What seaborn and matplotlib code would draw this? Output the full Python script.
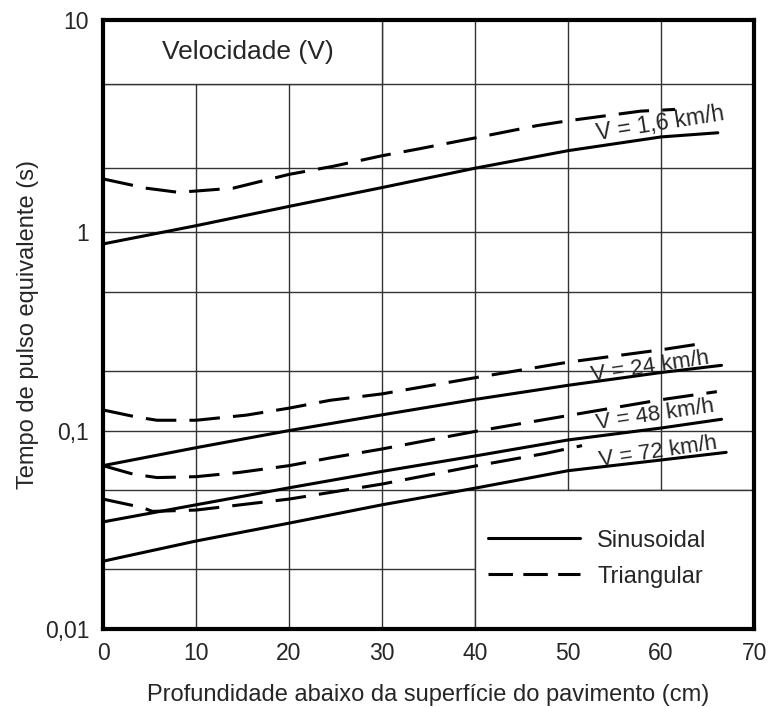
import numpy as np
import pandas as pd
import matplotlib
matplotlib.use("Agg")
import matplotlib.pyplot as plt
from matplotlib.lines import Line2D
from matplotlib.patches import Rectangle
from matplotlib.ticker import FixedLocator, NullFormatter
import seaborn as sns

# ---------------- data ----------------
x_sin_16 = [0, 10, 20, 30, 40, 50, 60, 66.1]
y_sin_16 = [0.87, 1.07, 1.32, 1.62, 2.0, 2.42, 2.81, 2.94]
x_tri_16 = [0, 4.6, 8.0, 10, 14, 20, 24.7, 30, 34, 40, 46.7, 50, 57.8, 61.5]
y_tri_16 = [1.78, 1.61, 1.54, 1.56, 1.61, 1.87, 2.04, 2.29, 2.47, 2.78, 3.18, 3.35, 3.72, 3.79]

x_sin_24 = [0, 10, 20, 30, 40, 50, 60, 66.5]
y_sin_24 = [0.0666, 0.082, 0.100, 0.120, 0.1435, 0.169, 0.196, 0.213]
x_tri_24 = [0, 3.6, 5.8, 10, 15.4, 20, 24.4, 30, 40, 50, 60, 63.9]
y_tri_24 = [0.127, 0.117, 0.1127, 0.1127, 0.1196, 0.1297, 0.142, 0.153, 0.1845, 0.221, 0.255, 0.272]

x_sin_48 = [0, 10, 20, 30, 40, 50, 60, 66.5]
y_sin_48 = [0.0347, 0.0423, 0.0515, 0.0623, 0.0745, 0.0897, 0.103, 0.114]
x_tri_48 = [0, 3.2, 5.8, 10, 14.7, 20, 24.4, 30, 40, 50, 60, 66]
y_tri_48 = [0.0666, 0.0604, 0.058, 0.0586, 0.0616, 0.0666, 0.0728, 0.0808, 0.099, 0.119, 0.143, 0.157]

x_sin_72 = [0, 10, 20, 30, 40, 50, 60, 67.0]
y_sin_72 = [0.0220, 0.0278, 0.0342, 0.0423, 0.0513, 0.0628, 0.0711, 0.0777]
x_tri_72 = [0, 4.2, 5.3, 10, 20, 30, 40, 47.6, 51.5]
y_tri_72 = [0.0452, 0.041, 0.0392, 0.0398, 0.0452, 0.0538, 0.0663, 0.0768, 0.084]

velocidades = ["V = 1,6 km/h", "V = 24 km/h", "V = 48 km/h", "V = 72 km/h"]
formas = ["Sinusoidal", "Triangular"]
y_tick_vals = [0.01, 0.1, 1, 10]
y_tick_labels = ["0,01", "0,1", "1", "10"]
y_minor_vals = [0.02, 0.05, 0.2, 0.5, 2, 5]
x_ticks = [0, 10, 20, 30, 40, 50, 60, 70]

series = [
    (velocidades[0], formas[0], x_sin_16, y_sin_16),
    (velocidades[0], formas[1], x_tri_16, y_tri_16),
    (velocidades[1], formas[0], x_sin_24, y_sin_24),
    (velocidades[1], formas[1], x_tri_24, y_tri_24),
    (velocidades[2], formas[0], x_sin_48, y_sin_48),
    (velocidades[2], formas[1], x_tri_48, y_tri_48),
    (velocidades[3], formas[0], x_sin_72, y_sin_72),
    (velocidades[3], formas[1], x_tri_72, y_tri_72),
]
rows = []
for v, f, xs, ys in series:
    for xv, yv in zip(xs, ys):
        rows.append({"serie": v + "|" + f, "forma": f, "prof": xv, "tempo": yv})
df = pd.DataFrame(rows)

# ---------------- styling ----------------
sns.set_style("white")
plt.rcParams["font.family"] = ["Liberation Sans", "DejaVu Sans"]
GRID = "#333333"
LW = 2.2
DASH = (10, 4.3)

# the original's upper decade (1-10) is drawn slightly taller than the others
K_TOP = 211.0 / 198.0


def fwd(y):
    l = np.log10(np.clip(y, 1e-12, None))
    return np.where(l > 0, l * K_TOP, l)


def inv(t):
    t = np.asarray(t, dtype=float)
    return np.where(t > 0, 10 ** (t / K_TOP), 10 ** t)


fig = plt.figure(figsize=(7.69, 7.07), dpi=100)
ax = fig.add_axes([0.134, 0.110, 0.8466, 0.8614])

ax.set_yscale("function", functions=(fwd, inv))
ax.set_xlim(0, 70)
ax.set_ylim(0.01, 10)

sns.lineplot(data=df, x="prof", y="tempo", units="serie", estimator=None,
             style="forma", dashes={"Sinusoidal": "", "Triangular": DASH},
             color="black", linewidth=LW, sort=False, legend=False, ax=ax, zorder=3)

# grid
ax.set_axisbelow(True)
ax.xaxis.set_major_locator(FixedLocator(x_ticks))
ax.yaxis.set_major_locator(FixedLocator(y_tick_vals))
ax.yaxis.set_minor_locator(FixedLocator(y_minor_vals))
ax.yaxis.set_minor_formatter(NullFormatter())
ax.set_yticklabels(y_tick_labels)
ax.set_xticklabels([str(t) for t in x_ticks])
ax.grid(True, which="major", axis="both", color=GRID, linewidth=1.0)
ax.grid(True, which="minor", axis="y", color=GRID, linewidth=1.0)
ax.tick_params(which="both", length=0)
ax.tick_params(axis="y", pad=10, labelsize=16.5)
ax.tick_params(axis="x", pad=9, labelsize=16.5)

for sp in ax.spines.values():
    sp.set_visible(True)
    sp.set_linewidth(3.0)
    sp.set_color("black")

# white panels (title area and legend area)
ax.add_patch(Rectangle((0, 5), 30, 5, facecolor="white", edgecolor=GRID,
                       linewidth=1.0, zorder=1.5))
ax.add_patch(Rectangle((40, 0.01), 30, 0.04, facecolor="white", edgecolor=GRID,
                       linewidth=1.0, zorder=1.5))

ax.text(0.223, 0.947, "Velocidade (V)", transform=ax.transAxes, ha="center",
        va="center", fontsize=19, zorder=4)

# curve labels
label_pos = [(59.9, 3.25, 9.0, 16.5), (58.8, 0.21, 8.4, 16),
             (59.4, 0.1205, 8.4, 16), (59.7, 0.0783, 8.4, 16)]
for txt, (lx, ly, rot, fs) in zip(velocidades, label_pos):
    ax.text(lx, ly, txt, ha="center", va="center", rotation=rot,
            rotation_mode="anchor", fontsize=fs, zorder=4)

ax.set_xlabel("Profundidade abaixo da superfície do pavimento (cm)", fontsize=17, labelpad=14)
ax.set_ylabel("Tempo de pulso equivalente (s)", fontsize=17, labelpad=4)

handles = [Line2D([], [], color="black", linewidth=LW),
           Line2D([], [], color="black", linewidth=LW, dashes=(8, 3.4))]
ax.legend(handles, formas, loc="center", bbox_to_anchor=(0.759, 0.116),
          frameon=False, fontsize=17, handlelength=3.9, handletextpad=0.75,
          labelspacing=0.6)

fig.savefig("out.png", dpi=100)
